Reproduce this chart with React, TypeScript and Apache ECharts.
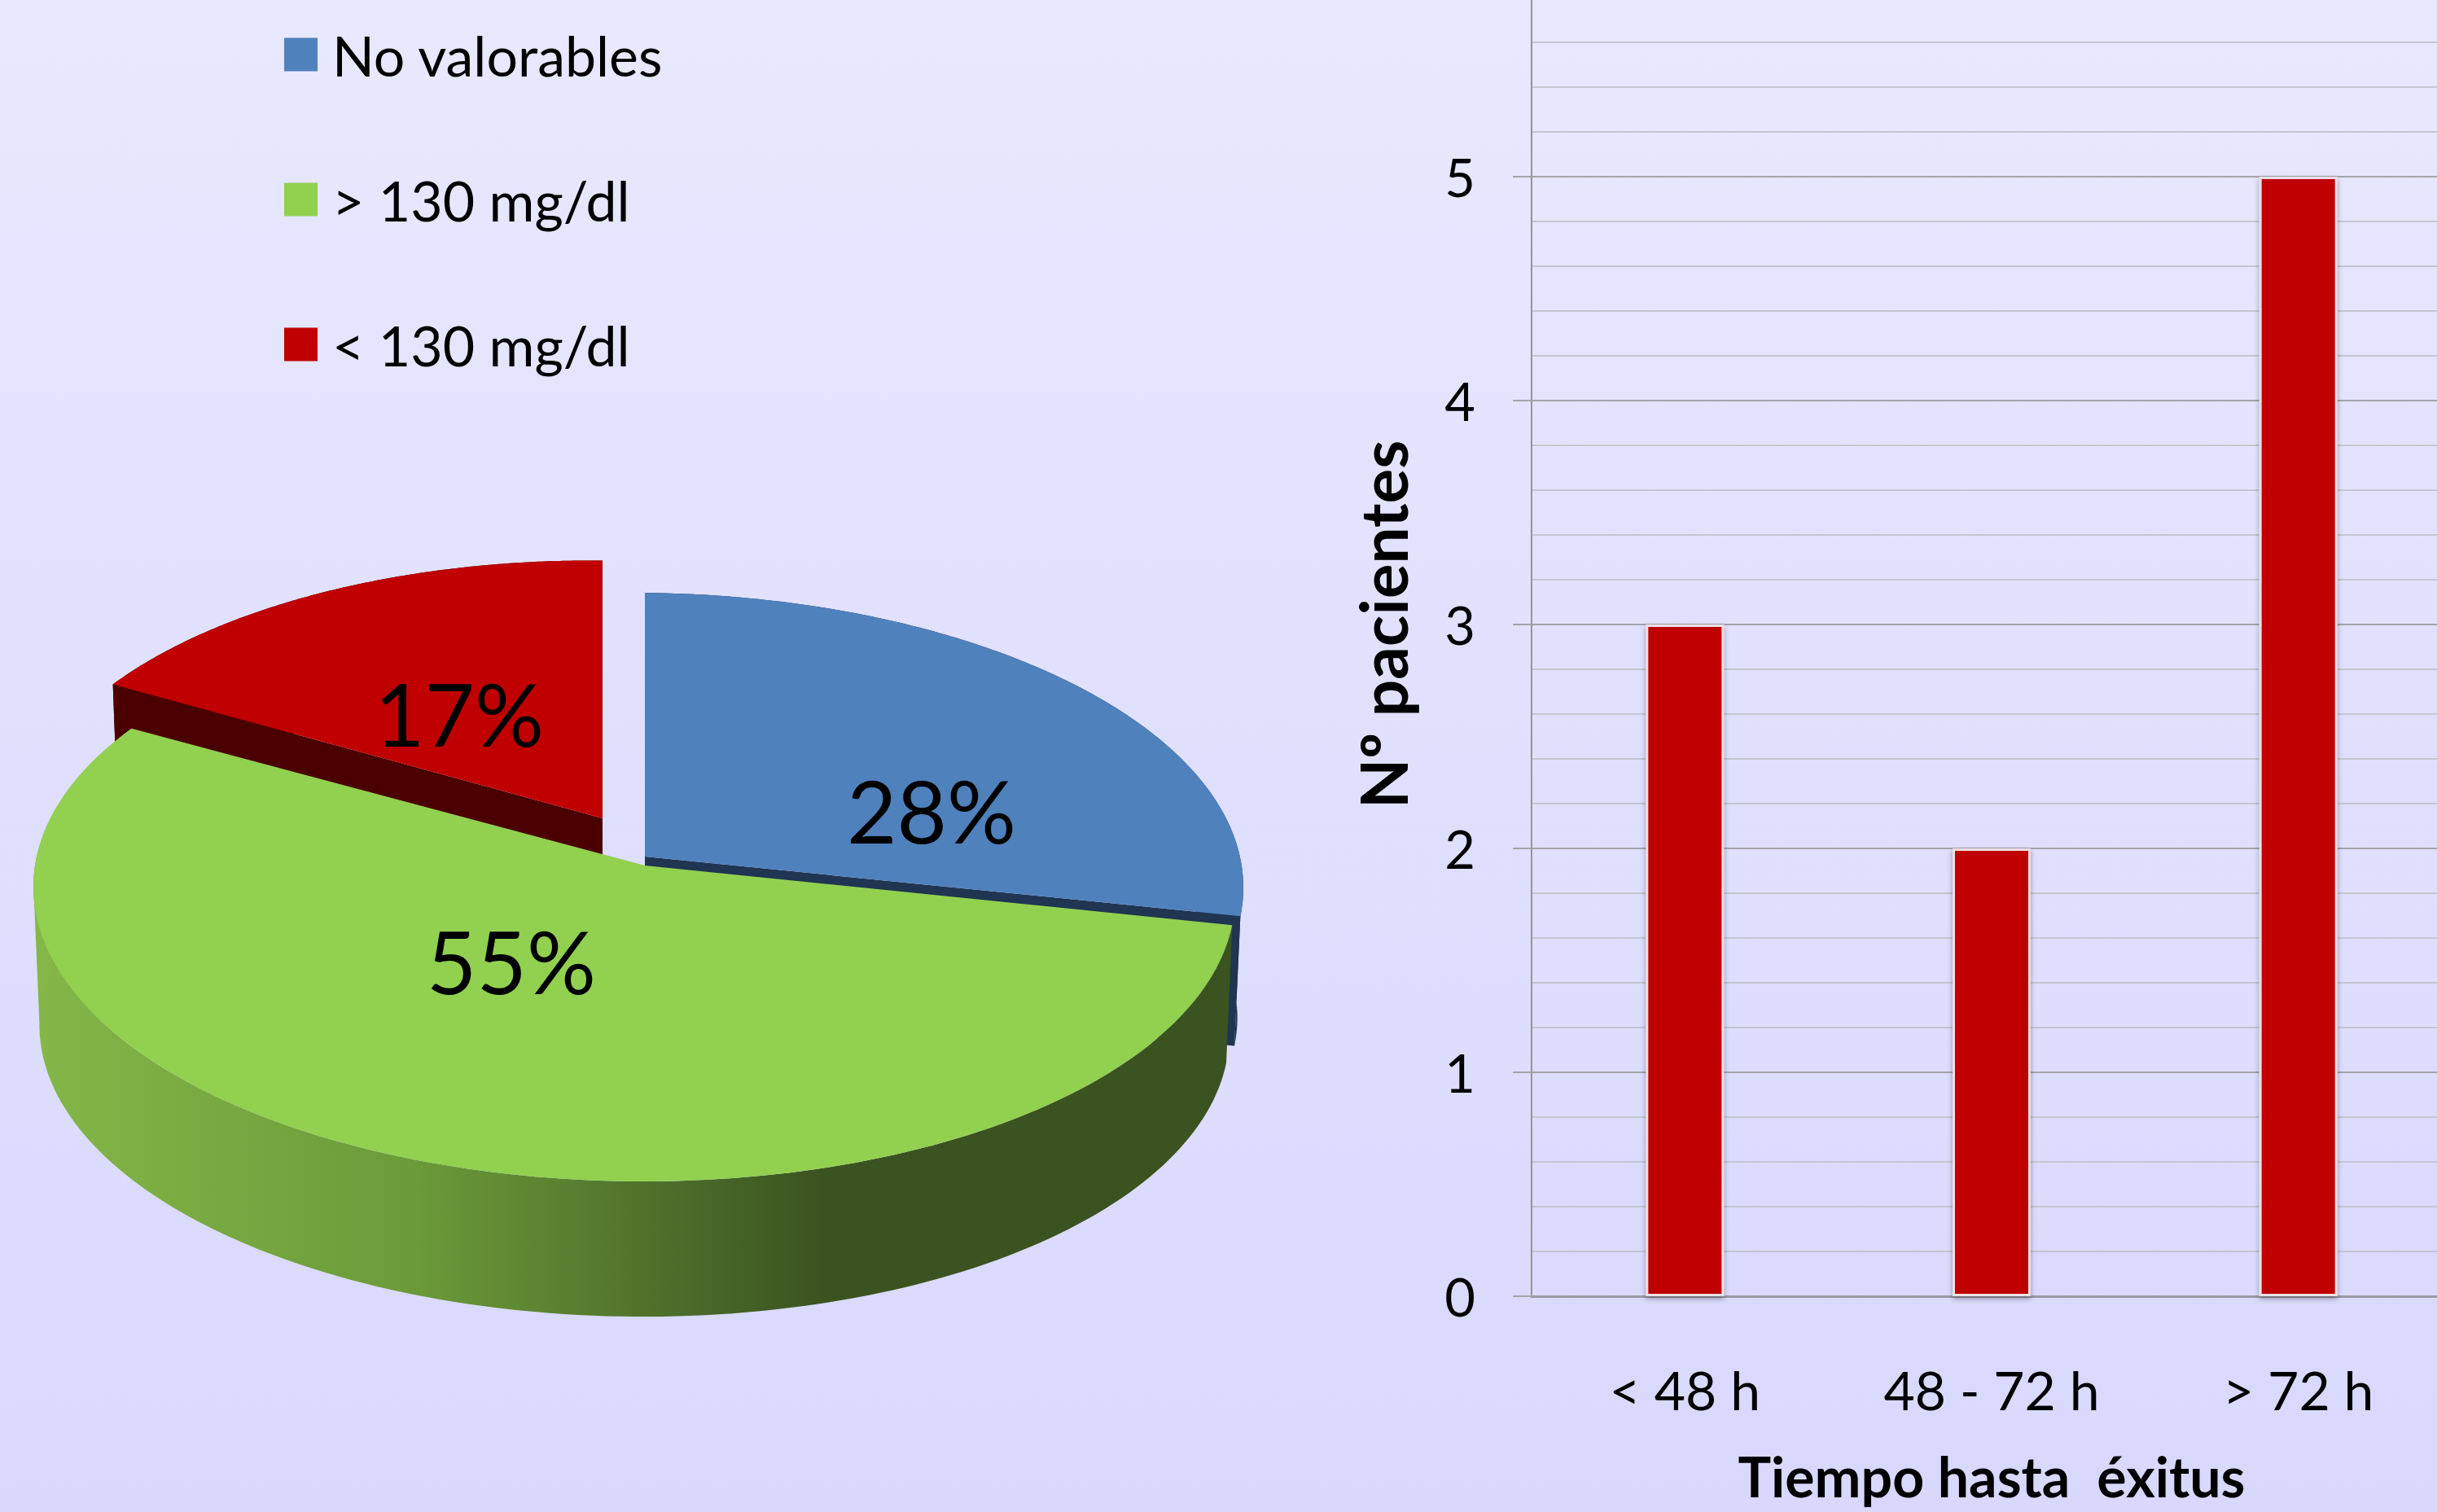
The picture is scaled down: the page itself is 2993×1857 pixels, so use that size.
import React, { useEffect, useRef } from "react";
import * as echarts from "echarts";

const W = 2993;
const H = 1857;
const FONT = "Lato";

const pieCategories = ["No valorables", "> 130 mg/dl", "< 130 mg/dl"];
const pieValues = [28, 55, 17];
const barCategories = ["< 48 h", "48 - 72 h", "> 72 h"];
const barValues = [3, 2, 5];
const yTicks = [0, 1, 2, 3, 4, 5];

const topColors = ["#4f81bd", "#92d050", "#c00000"];
const wallColors = ["#1f3552", "#3b5320", "#4b0000"];

// Perspective disc geometry of each slice (pixels)
const sliceGeom = [
  { apexX: 792, apexY: 1052, arcX: 792, ax: 732, ay: 353, depth: 160, lx: 1144, ly: 995 },
  { apexX: 792, apexY: 1063, arcX: 779, ax: 735, ay: 353, depth: 170, lx: 628, ly: 1180 },
  { apexX: 740, apexY: 1005, arcX: 740, ax: 716, ay: 345, depth: 160, lx: 564, ly: 876 },
];
const K = 0.09;
const TILT = 6;
const BOTTOM_SCALE = 0.99;

function sliceRenderer(index: number) {
  return (_params: any, api: any) => {
    const value = api.value(0);
    const total = pieValues.reduce((a, b) => a + b, 0);
    const before = pieValues.slice(0, index).reduce((a, b) => a + b, 0);
    const start = (before / total) * Math.PI * 2;
    const end = start + (value / total) * Math.PI * 2;
    const g = sliceGeom[index];
    const proj = (t: number, scale = 1, dy = 0) => {
      const s = 1 / (1 + K * Math.cos(t));
      return [
        g.arcX + g.ax * scale * Math.sin(t) * s,
        g.apexY + dy - g.ay * scale * Math.cos(t) * s + TILT * Math.sin(t),
      ];
    };
    const N = 160;
    const arc: number[][] = [];
    const low: number[][] = [];
    for (let i = 0; i <= N; i++) {
      const t = start + ((end - start) * i) / N;
      arc.push(proj(t));
      low.push(proj(t, BOTTOM_SCALE, g.depth));
    }
    const apex = [g.apexX, g.apexY];
    const apexLow = [g.apexX, g.apexY + g.depth];
    const wallFill =
      index === 1
        ? new echarts.graphic.LinearGradient(0, 0, 1, 0, [
            { offset: 0, color: "#84b748" },
            { offset: 0.32, color: "#6b9a39" },
            { offset: 0.66, color: "#3b5320" },
            { offset: 1, color: "#3b5320" },
          ])
        : wallColors[index];
    const children: any[] = [];
    if (index === 1) {
      // silhouette between the leftmost points of the upper and lower rims
      const leftmost = (pts: number[][]) => pts.reduce((m, p) => (p[0] < m[0] ? p : m), pts[0]);
      children.push({
        type: "polygon",
        shape: { points: [leftmost(arc), leftmost(low), apexLow] },
        style: { fill: "#84b748" },
      });
    }
    children.push({
      type: "polygon",
      shape: { points: [...arc, ...low.slice().reverse()] },
      style: { fill: wallFill },
    });
    // radial cut faces
    const faceCorner = index === 0 ? N : 0;
    if (index !== 1) {
      children.push({
        type: "polygon",
        shape: { points: [apex, arc[faceCorner], low[faceCorner], apexLow] },
        style: { fill: wallColors[index] },
      });
    }
    children.push({
      type: "polygon",
      shape: { points: [apex, ...arc] },
      style: { fill: topColors[index] },
    });
    children.push({
      type: "text",
      style: {
        text: `${value}%`,
        x: g.lx,
        y: g.ly,
        fontFamily: FONT,
        fontSize: 106,
        fill: "#000",
        align: "center",
        verticalAlign: "middle",
      },
    });
    return { type: "group", children };
  };
}

// Draw order: back slices first
const drawOrder = [2, 0, 1];

export default function App() {
  const ref = useRef<HTMLDivElement>(null);
  useEffect(() => {
    document.body.style.margin = "0";
    const chart = echarts.init(ref.current!, null, { renderer: "svg", width: W, height: H });
    chart.setOption({
      animation: false,
      backgroundColor: new echarts.graphic.LinearGradient(0, 0, 0, 1, [
        { offset: 0, color: "#e8e8fe" },
        { offset: 1, color: "#d8d8fd" },
      ]),
      legend: {
        orient: "vertical",
        left: 349,
        top: 33,
        padding: 0,
        itemWidth: 41,
        itemHeight: 41,
        itemGap: 110,
        icon: "rect",
        selectedMode: false,
        data: pieCategories.map((name, i) => ({
          name,
          itemStyle: { color: topColors[i] },
        })),
        textStyle: {
          fontFamily: FONT,
          fontSize: 68,
          color: "#000",
          padding: [0, 0, 16, 13],
        },
      },
      grid: {
        left: 1881,
        top: -58,
        width: 1130,
        height: 1650,
        containLabel: false,
        outerBoundsMode: "none",
      },
      xAxis: {
        type: "category",
        data: barCategories,
        axisTick: { show: false },
        axisLine: { lineStyle: { color: "#9a9aa3", width: 3 } },
        axisLabel: { fontFamily: FONT, fontSize: 66, color: "#000", margin: 81 },
        name: "Tiempo hasta  éxitus",
        nameLocation: "middle",
        nameGap: 186,
        nameTextStyle: { fontFamily: FONT, fontSize: 68, fontWeight: "bold", color: "#000" },
      },
      yAxis: {
        type: "value",
        min: yTicks[0],
        max: 6,
        interval: 1,
        axisLine: { show: true, lineStyle: { color: "#94949c", width: 2 } },
        axisTick: { show: true, length: 23, lineStyle: { color: "#a3a3ab", width: 2 } },
        minorTick: { show: false, splitNumber: 5 },
        splitLine: { show: true, lineStyle: { color: "#a3a3ab", width: 2 } },
        minorSplitLine: { show: true, lineStyle: { color: "#c5c5d3", width: 2 } },
        axisLabel: { fontFamily: FONT, fontSize: 65, color: "#000", margin: 69, showMaxLabel: false },
        name: "Nº pacientes",
        nameLocation: "middle",
        nameGap: 143,
        nameRotate: 90,
        nameTextStyle: { fontFamily: FONT, fontSize: 80, fontWeight: "bold", color: "#000" },
      },
      series: [
        {
          type: "bar",
          name: "Pacientes",
          data: barValues,
          barWidth: 96,
          itemStyle: {
            color: "#c00000",
            borderColor: "#ecdfe6",
            borderWidth: 3,
            shadowBlur: 6,
            shadowColor: "rgba(0,0,0,0.35)",
            shadowOffsetY: 3,
          },
        },
        ...drawOrder.map((i) => ({
          type: "custom",
          name: pieCategories[i],
          coordinateSystem: "none",
          silent: true,
          data: [pieValues[i]],
          itemStyle: { color: topColors[i] },
          renderItem: sliceRenderer(i),
        })),
      ],
    });
    return () => chart.dispose();
  }, []);
  return <div ref={ref} style={{ position: "absolute", left: 0, top: 0, width: W, height: H }} />;
}
